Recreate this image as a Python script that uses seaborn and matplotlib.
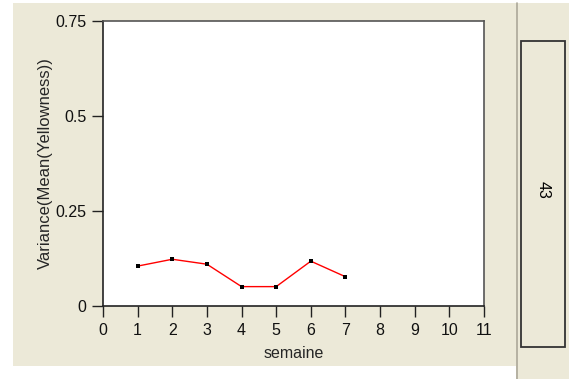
import matplotlib
matplotlib.use("Agg")
import matplotlib.pyplot as plt
import seaborn as sns
import pandas as pd
from matplotlib.patches import Rectangle
from matplotlib.lines import Line2D

# data
semaine = [1, 2, 3, 4, 5, 6, 7]
variance = [0.105, 0.123, 0.110, 0.051, 0.051, 0.118, 0.077]
x_ticks = list(range(0, 12))
y_ticks = [0, 0.25, 0.5, 0.75]
y_tick_labels = ["0", "0.25", "0.5", "0.75"]
panel_label = "43"

df = pd.DataFrame({"semaine": semaine, "variance": variance})

sns.set_style("white")
plt.rcParams["font.family"] = ["Liberation Sans", "DejaVu Sans"]

W, H = 569, 379
fig = plt.figure(figsize=(W / 100, H / 100), dpi=100)
fig.patch.set_facecolor("white")

beige = "#ECE9D8"
# left beige panel
fig.patches.append(Rectangle((13 / W, 1 - 366 / H), (516 - 13) / W, (366 - 3) / H,
                             transform=fig.transFigure, facecolor=beige, edgecolor="none", zorder=-2))
# right beige panel
fig.patches.append(Rectangle((516 / W, 0), (W - 516) / W, 1 - 3 / H,
                             transform=fig.transFigure, facecolor=beige, edgecolor="none", zorder=-2))
# separator line
fig.lines.append(Line2D([516.5 / W, 516.5 / W], [0, 1 - 3 / H], transform=fig.transFigure,
                        color="#ACA899", lw=1.2, zorder=-1))
# right label box
fig.patches.append(Rectangle((521 / W, 1 - 347 / H), 44 / W, 306 / H,
                             transform=fig.transFigure, facecolor=beige, edgecolor="#333333",
                             lw=1.3, zorder=-1))
fig.text(543 / W, 1 - 190 / H, panel_label, rotation=-90, ha="center", va="center",
         fontsize=11.5, color="black")

ax = fig.add_axes([103 / W, 1 - 306 / H, (484 - 103) / W, (306 - 21) / H])
ax.set_zorder(5)
ax.set_facecolor("white")

sns.lineplot(data=df, x="semaine", y="variance", ax=ax, color="#FF0000", lw=1,
             marker="s", markersize=2.6, markeredgewidth=0,
             markerfacecolor="black")

ax.set_xlim(0, 11)
ax.set_ylim(0, 0.75)
ax.set_xticks(x_ticks)
ax.set_yticks(y_ticks)
ax.set_yticklabels(y_tick_labels)
ax.tick_params(axis="both", direction="out", length=8, width=1, color="#222222",
               labelsize=11.5, pad=4, left=True, bottom=True, labelcolor="#111111")
ax.set_xlabel("semaine", fontsize=11.5)
ax.set_ylabel("Variance(Mean(Yellowness))", fontsize=12)
ax.xaxis.set_label_coords(0.5, -0.14)
ax.yaxis.set_label_coords(-0.131, 0.5)

for side in ["left", "bottom"]:
    ax.spines[side].set_color("#222222")
    ax.spines[side].set_linewidth(1.2)
for side in ["top", "right"]:
    ax.spines[side].set_color("#555555")
    ax.spines[side].set_linewidth(1.2)

fig.savefig("out.png", dpi=100)
